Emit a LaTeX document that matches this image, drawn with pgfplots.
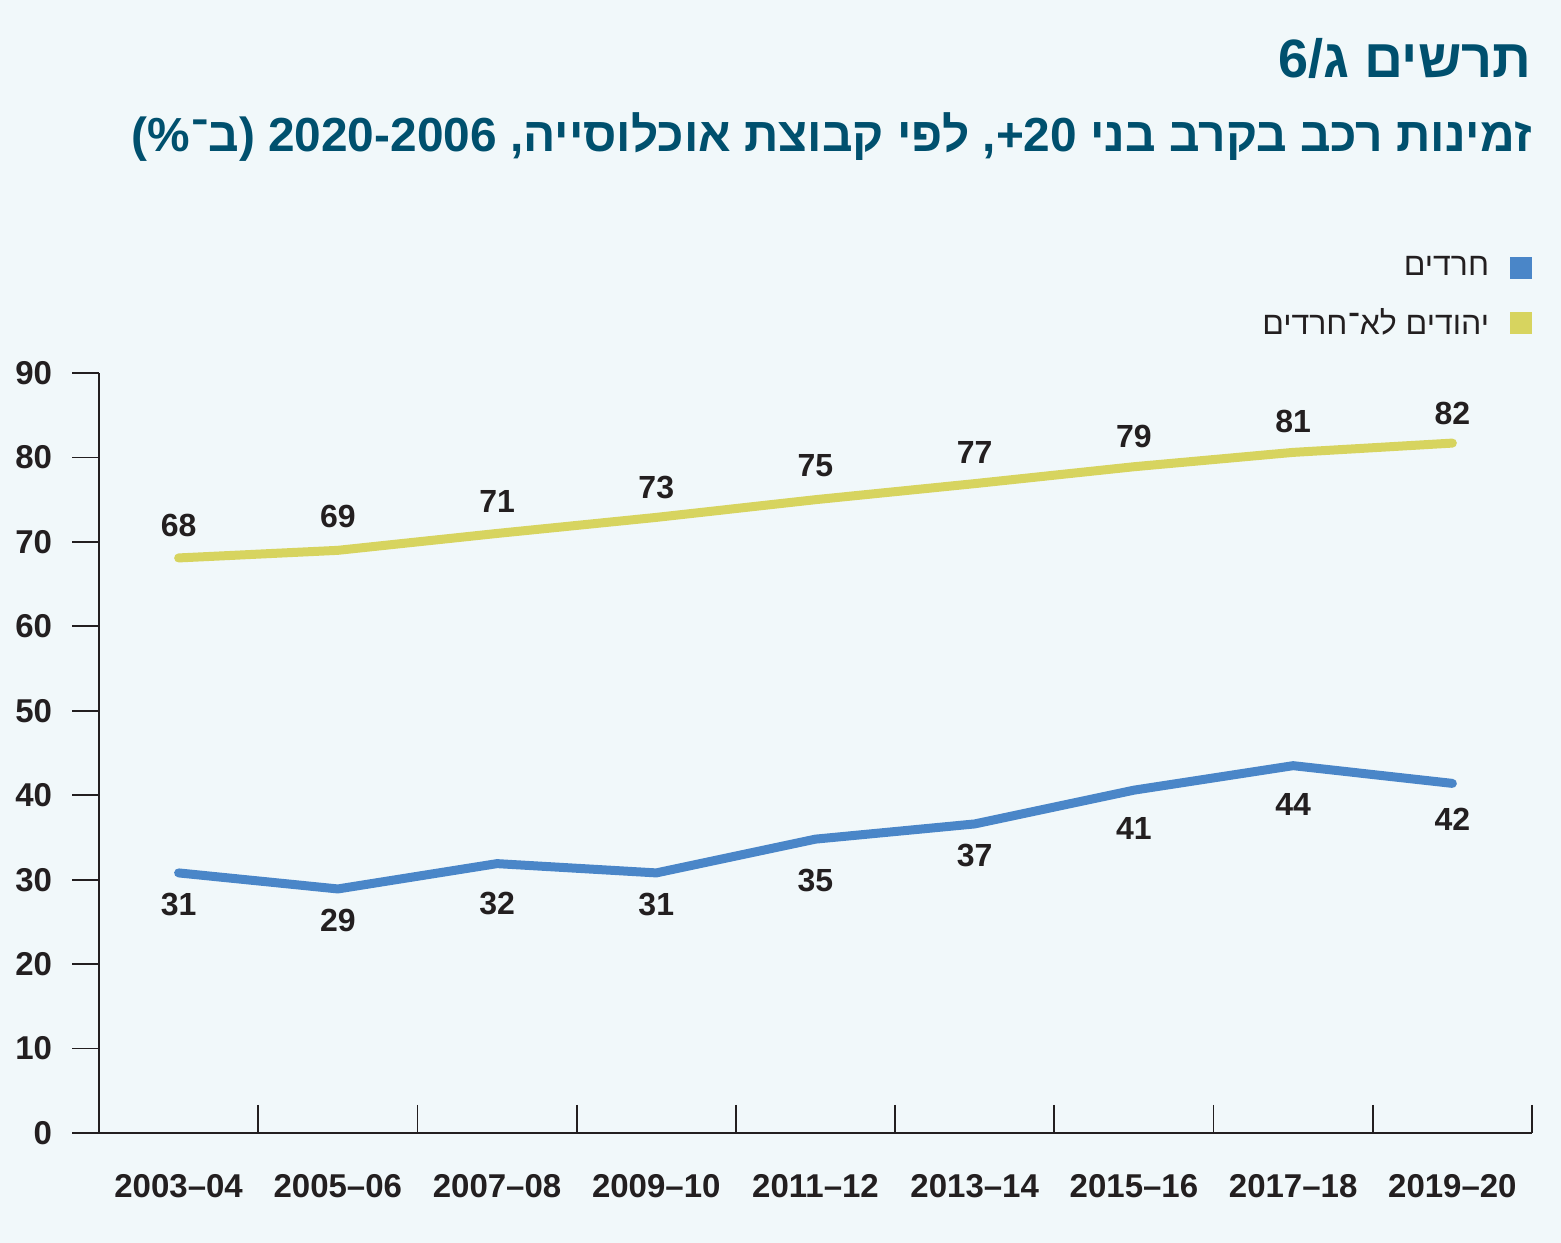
\documentclass[border=0pt]{standalone}
\usepackage{pgfplots}
\pgfplotsset{compat=1.18}
\usepackage{pgfplotstable}
\usepackage{fontspec}
\setmainfont{Liberation Sans}
\newfontfamily\heb[Script=Hebrew]{Liberation Sans}
\TeXXeTstate=1
\definecolor{bg}{HTML}{F1F8FA}
\definecolor{cblue}{HTML}{4A86C8}
\definecolor{cyel}{HTML}{D7D45F}
\definecolor{ctitle}{HTML}{00506E}
\definecolor{txt}{HTML}{231F20}

\pgfplotstableread{
x y lab dy
0 30.8 31 -16
1 28.9 29 -16
2 31.9 32 -20
3 30.8 31 -16
4 34.8 35 -20.5
5 36.6 37 -16
6 40.6 41 -19
7 43.5 44 -19.5
8 41.4 42 -18
}\haredi

\pgfplotstableread{
x y lab dy
0 68.1 68 16
1 69.0 69 17
2 71.0 71 16
3 72.9 73 15
4 75.0 75 17
5 76.9 77 15.5
6 78.9 79 15
7 80.6 81 15.5
8 81.7 82 15
}\jews

\begin{document}
\begin{tikzpicture}
\fill[bg] (0,0) rectangle (780.5bp,621.5bp);
\useasboundingbox (0,0) rectangle (780.5bp,621.5bp);
\node[anchor=east, text=ctitle, inner sep=0pt, font=\heb\bfseries\fontsize{27bp}{31bp}\selectfont] at (766bp,592.5bp)
  {\beginR תרשים ג\kern0pt/\kern0pt\beginL6\endL\endR};
\node[anchor=east, text=ctitle, inner sep=0pt, font=\heb\bfseries\fontsize{23.9bp}{28bp}\selectfont] at (766bp,553bp)
  {\beginR זמינות רכב בקרב בני \beginL20\endL+\kern0pt, לפי קבוצת אוכלוסייה\kern0pt, \beginL2006\endL\kern0pt-\kern0pt\beginL2020\endL\ (\kern0pt ב\kern0pt־\kern0pt\%\kern0pt)\endR};
\begin{axis}[
  at={(49.5bp,55bp)}, anchor=south west, scale only axis,
  width=716.5bp, height=380bp,
  xmin=-0.5, xmax=8.5, ymin=0, ymax=90,
  axis lines=left,
  axis line style={-, line width=0.9bp, draw=txt},
  xtick={0,...,8},
  xticklabels={2003–04,2005–06,2007–08,2009–10,2011–12,2013–14,2015–16,2017–18,2019–20},
  every major x tick/.append style={draw=none},
  minor xtick={0.5,1.5,...,8.5},
  minor tick length=-14bp,
  ytick={0,10,...,90},
  major tick length=13.5bp,
  tick align=outside,
  tick style={line width=0.9bp, draw=txt},
  tick label style={font=\bfseries\fontsize{16.5bp}{18bp}\selectfont, text=txt},
  /pgf/number format/assume math mode=true,
  yticklabel style={xshift=-6.5bp},
  xticklabel style={yshift=-3.5bp},
  clip=false,
  point meta=explicit symbolic,
  nodes near coords,
  visualization depends on={\thisrow{dy} \as \dy},
  nodes near coords style={anchor=center, yshift=\dy bp, font=\bfseries\fontsize{16bp}{18bp}\selectfont, text=txt},
  legend style={at={(1,1.159)}, anchor=north east, draw=none, fill=none, inner sep=0pt,
    font=\heb\fontsize{16bp}{18bp}\selectfont, text=txt, row sep=11bp},
  legend cell align=right,
  legend plot pos=right,
  legend image code/.code={\path (0bp,0bp); \path[#1, draw=none, fill] (6bp,-5.5bp) rectangle (17bp,5.5bp);},
]
\addplot[color=cblue, line width=4.5bp, line cap=round, line join=round, mark=none]
  table[x=x, y=y, meta=lab] {\haredi};
\addlegendentry{\beginR חרדים\endR}
\addplot[color=cyel, line width=4.5bp, line cap=round, line join=round, mark=none]
  table[x=x, y=y, meta=lab] {\jews};
\addlegendentry{\beginR יהודים לא־חרדים\endR}
\end{axis}
\end{tikzpicture}
\end{document}
